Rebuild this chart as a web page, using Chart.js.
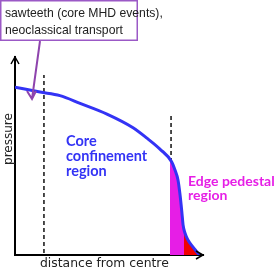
<!DOCTYPE html>
<html>
<head>
<meta charset="utf-8">
<script src="https://cdn.jsdelivr.net/npm/chart.js@4.4.0/dist/chart.umd.min.js"></script>
<style>
  html, body { margin: 0; padding: 0; background: #fff; }
  #wrap { width: 280px; height: 270px; }
</style>
</head>
<body>
<div id="wrap"><canvas id="playground"></canvas></div>
<script>
// pressure profile (distance from centre 0..1, pressure 0..1)
const profileX = [0, 0.133, 0.239, 0.346, 0.489, 0.628, 0.702, 0.771, 0.833, 0.851, 0.867, 0.878, 0.888, 0.894, 0.904, 0.92, 0.947, 0.968, 0.979]
const profileY = [0.848, 0.823, 0.805, 0.766, 0.712, 0.643, 0.59, 0.535, 0.471, 0.429, 0.379, 0.303, 0.212, 0.152, 0.111, 0.076, 0.04, 0.015, 0]

// pedestal shading (magenta) and the foot of it (red)
const pedX = [0.824, 0.833, 0.851, 0.867, 0.878, 0.888, 0.894, 0.904, 0.92, 0.947, 0.968, 0.979]
const pedY = [0.49, 0.471, 0.429, 0.379, 0.303, 0.212, 0.152, 0.111, 0.076, 0.04, 0.015, 0]
const footX = [0.899, 0.904, 0.92, 0.947, 0.968, 0.979]
const footY = [0.13, 0.111, 0.076, 0.04, 0.015, 0]

// dashed boundaries
const sawX = [0.154, 0.154]
const sawY = [0.01, 0.909]
const pedTopX = [0.83, 0.83]
const pedTopY = [0.47, 0.717]

const xTitle = 'distance from centre'
const yTitle = 'pressure'
const coreLabel = ['Core', 'confinement', 'region']
const edgeLabel = ['Edge pedestal', 'region']
const noteLabel = ['sawteeth (core MHD events),', 'neoclassical transport']

const pts = (xs, ys) => xs.map((x, i) => ({ x: x, y: ys[i] }))

const BLUE = '#3333f5'
const MAGENTA = '#e61ee6'
const PURPLE = '#8e44ad'

const sketch = {
  id: 'sketch',
  afterDraw(chart) {
    const ctx = chart.ctx
    const a = chart.chartArea
    ctx.save()
    // arrow heads on the axes
    ctx.strokeStyle = '#000'
    ctx.lineWidth = 1.5
    ctx.beginPath()
    ctx.moveTo(a.left - 4, a.top + 7)
    ctx.lineTo(a.left, a.top)
    ctx.lineTo(a.left + 4, a.top + 7)
    ctx.moveTo(a.right - 7, a.bottom - 4)
    ctx.lineTo(a.right, a.bottom)
    ctx.lineTo(a.right - 7, a.bottom + 4)
    ctx.stroke()

    // axis titles
    ctx.fillStyle = '#222'
    ctx.textBaseline = 'alphabetic'
    ctx.textAlign = 'left'
    ctx.font = "12.4px 'DejaVu Sans', sans-serif"
    ctx.fillText(xTitle, 40, 267)
    ctx.save()
    ctx.font = "12px 'DejaVu Sans', sans-serif"
    ctx.translate(11.5, 139)
    ctx.rotate(-Math.PI / 2)
    ctx.textAlign = 'center'
    ctx.fillText(yTitle, 0, 0)
    ctx.restore()

    // region labels
    ctx.textAlign = 'left'
    ctx.fillStyle = BLUE
    ctx.font = "bold 14.5px 'Lato', sans-serif"
    coreLabel.forEach((t, i) => ctx.fillText(t, 66, 146 + i * 15))
    ctx.fillStyle = MAGENTA
    ctx.font = "bold 14px 'Lato', sans-serif"
    edgeLabel.forEach((t, i) => ctx.fillText(t, 188, 186 + i * 13.5))

    // note box with arrow
    ctx.strokeStyle = '#9b59c6'
    ctx.lineWidth = 1.5
    ctx.strokeRect(0.75, 0.75, 136.5, 39.5)
    ctx.fillStyle = '#222'
    ctx.font = "12.2px 'Liberation Sans', sans-serif"
    noteLabel.forEach((t, i) => ctx.fillText(t, 5, 17 + i * 17))
    ctx.strokeStyle = PURPLE
    ctx.lineWidth = 2
    ctx.beginPath()
    ctx.moveTo(40, 41)
    ctx.lineTo(32, 99)
    ctx.moveTo(27, 91)
    ctx.lineTo(32, 99)
    ctx.lineTo(36, 91)
    ctx.stroke()
    ctx.restore()
  },
}

const ctx = document.getElementById('playground').getContext('2d')
const myChart = new Chart(ctx, {
  type: 'line',
  data: {
    datasets: [
      {
        data: pts(profileX, profileY),
        borderColor: BLUE,
        borderWidth: 3,
        pointRadius: 0,
        cubicInterpolationMode: 'monotone',
        fill: false,
      },
      {
        data: pts(footX, footY),
        borderWidth: 0,
        pointRadius: 0,
        cubicInterpolationMode: 'monotone',
        backgroundColor: '#f00000',
        fill: 'origin',
      },
      {
        data: pts(pedX, pedY),
        borderWidth: 0,
        pointRadius: 0,
        cubicInterpolationMode: 'monotone',
        backgroundColor: MAGENTA,
        fill: 'origin',
      },
      {
        data: pts(sawX, sawY),
        borderColor: '#111',
        borderWidth: 1.5,
        borderDash: [4, 3],
        pointRadius: 0,
        fill: false,
      },
      {
        data: pts(pedTopX, pedTopY),
        borderColor: '#111',
        borderWidth: 1.5,
        borderDash: [4, 3],
        pointRadius: 0,
        fill: false,
      },
    ],
  },
  options: {
    responsive: true,
    maintainAspectRatio: false,
    animation: false,
    layout: {
      autoPadding: false,
      padding: { left: 15, top: 57, right: 77, bottom: 15 },
    },
    scales: {
      x: {
        type: 'linear',
        min: 0,
        max: 1,
        ticks: { display: false },
        grid: { display: false, drawTicks: false },
        border: { display: true, color: '#000', width: 2 },
      },
      y: {
        type: 'linear',
        min: 0,
        max: 1,
        ticks: { display: false },
        grid: { display: false, drawTicks: false },
        border: { display: true, color: '#000', width: 2 },
      },
    },
    plugins: {
      legend: { display: false },
      tooltip: { enabled: false },
    },
  },
  plugins: [sketch],
})
</script>
</body>
</html>
